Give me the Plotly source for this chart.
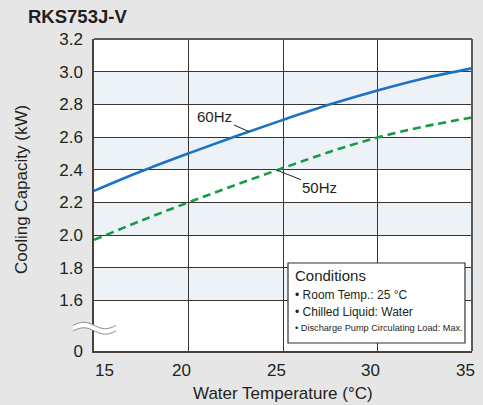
import numpy as np
import plotly.graph_objects as go

# Cooling capacity vs. water temperature
temps = [15, 17.5, 20, 22.5, 25, 27.5, 30, 32.5, 35]
cap_60hz = [2.27, 2.39, 2.50, 2.605, 2.705, 2.80, 2.885, 2.96, 3.02]
cap_50hz = [1.97, 2.088, 2.20, 2.307, 2.41, 2.51, 2.597, 2.665, 2.72]

x_ticks = [15, 20, 25, 30, 35]
y_ticks = [1.6, 1.8, 2.0, 2.2, 2.4, 2.6, 2.8, 3.0, 3.2]
ZERO_POS = 1.29  # where the "0" label sits below the axis break

W, H = 483, 405
ML, MR, MT, MB = 94, 11, 39, 54
PW, PH = W - ML - MR, H - MT - MB

def px(x):
    return (x - ML) / PW

def py(y):
    return (H - MB - y) / PH

TXT = "#231f20"
FONT = "Liberation Sans, Arial, Helvetica, sans-serif"
BAND = "#edf2f6"
GRID = "#3a3330"

fig = go.Figure()
fig.add_trace(go.Scatter(x=temps, y=cap_60hz, mode="lines", line=dict(color="#1b72c2", width=2.6),
                         line_shape="spline", showlegend=False, hoverinfo="skip"))
fig.add_trace(go.Scatter(x=temps, y=cap_50hz, mode="lines", line=dict(color="#159a45", width=2.6, dash="8px,5px"),
                         line_shape="spline", showlegend=False, hoverinfo="skip"))

shapes = []
# alternating light bands
for lo in [1.6, 2.0, 2.4, 2.8]:
    shapes.append(dict(type="rect", xref="paper", yref="y", x0=0, x1=1, y0=lo, y1=lo + 0.2,
                       fillcolor=BAND, line_width=0, layer="below"))
# top and right frame
shapes.append(dict(type="line", xref="paper", yref="paper", x0=0, x1=1, y0=1, y1=1,
                   line=dict(color="#5a5a5a", width=2)))
shapes.append(dict(type="line", xref="paper", yref="paper", x0=1, x1=1, y0=0, y1=1,
                   line=dict(color="#5a5a5a", width=2)))

# axis break mark (wavy white gap on the y axis)
def wave(x0, x1, yc, amp, n=24):
    xs = np.linspace(x0, x1, n)
    ys = yc - amp * np.sin((xs - x0) / (x1 - x0) * 2 * np.pi)
    return xs, ys

xa, ya = wave(73, 116, 325.5, 3.2)
xb, yb = wave(73, 116, 331.0, 3.2)
path = "M " + " L ".join(f"{px(a):.4f},{py(b):.4f}" for a, b in zip(xa, ya))
path += " L " + " L ".join(f"{px(a):.4f},{py(b):.4f}" for a, b in zip(xb[::-1], yb[::-1])) + " Z"
shapes.append(dict(type="path", xref="paper", yref="paper", path=path,
                   fillcolor="white", line_width=0))
for xs, ys in [(xa, ya), (xb, yb)]:
    p = "M " + " L ".join(f"{px(a):.4f},{py(b):.4f}" for a, b in zip(xs, ys))
    shapes.append(dict(type="path", xref="paper", yref="paper", path=p,
                       line=dict(color="#8a8a8a", width=1)))

# conditions box
shapes.append(dict(type="rect", xref="paper", yref="paper", x0=px(288), x1=px(465), y0=py(343), y1=py(263),
                   fillcolor="white", line=dict(color="#333333", width=1.2)))

annotations = []
# x tick labels
for v in x_ticks:
    annotations.append(dict(x=v, y=0, xref="x", yref="paper", xanchor="center", yanchor="top", yshift=-8,
                            xshift=10 if v == x_ticks[0] else -7,
                            text=str(v), showarrow=False, font=dict(size=17, color=TXT, family=FONT)))
annotations.append(dict(x=px(283), y=py(393), xref="paper", yref="paper", xanchor="center", yanchor="middle",
                        text="Water Temperature (°C)",
                        showarrow=False, font=dict(size=17, color=TXT, family=FONT)))
annotations.append(dict(x=px(22), y=py(190), xref="paper", yref="paper", xanchor="center", yanchor="middle",
                        text="Cooling Capacity (kW)",
                        textangle=-90, showarrow=False, font=dict(size=17, color=TXT, family=FONT)))

# series labels with leader lines
x60 = 23.2
annotations.append(dict(x=x60, y=float(np.interp(x60, temps, cap_60hz)), xref="x", yref="y",
                        text="60Hz", ax=-34, ay=-15, showarrow=True, arrowhead=0, arrowwidth=1,
                        arrowcolor=TXT, standoff=0, font=dict(size=15, color=TXT, family=FONT)))
x50 = 24.68
annotations.append(dict(x=x50, y=float(np.interp(x50, temps, cap_50hz)), xref="x", yref="y",
                        text="50Hz", ax=43, ay=17, showarrow=True, arrowhead=0, arrowwidth=1,
                        arrowcolor=TXT, standoff=0, font=dict(size=15, color=TXT, family=FONT)))

# conditions text
cond = [("Conditions", 15, 275),
        ("• Room Temp.: 25 °C", 12, 295),
        ("• Chilled Liquid: Water", 12, 312),
        ("• Discharge Pump Circulating Load: Max.", 9.2, 328)]
for text, size, yc in cond:
    annotations.append(dict(x=px(293), y=py(yc), xref="paper", yref="paper", xanchor="left",
                            yanchor="middle", text=text, showarrow=False,
                            font=dict(size=size, color=TXT, family=FONT)))

fig.update_layout(
    width=W, height=H,
    margin=dict(l=ML, r=MR, t=MT, b=MB),
    paper_bgcolor="#e6e6e6",
    plot_bgcolor="white",
    title=dict(text="<b>RKS753J-V</b>", xref="container", yref="container", x=28 / W, xanchor="left",
               y=1 - 17 / H, yanchor="middle", font=dict(size=18.5, color=TXT, family=FONT)),
    shapes=shapes,
    annotations=annotations,
    xaxis=dict(range=[15, 35], tickvals=x_ticks, showticklabels=False, showgrid=True,
               gridcolor=GRID, gridwidth=1, showline=True, linecolor="#4a403c", linewidth=1.5,
               zeroline=False, fixedrange=True),
    yaxis=dict(range=[ZERO_POS, 3.2], tickvals=[ZERO_POS] + y_ticks,
               ticktext=["0"] + [f"{v:.1f}" for v in y_ticks], showgrid=True,
               gridcolor=GRID, gridwidth=1, showline=True, linecolor="#4a403c", linewidth=1.5,
               zeroline=False, ticks="", ticklabelstandoff=6,
               tickfont=dict(size=17, color=TXT, family=FONT), fixedrange=True),
)

fig.write_html("out.html", config={"displayModeBar": False})
